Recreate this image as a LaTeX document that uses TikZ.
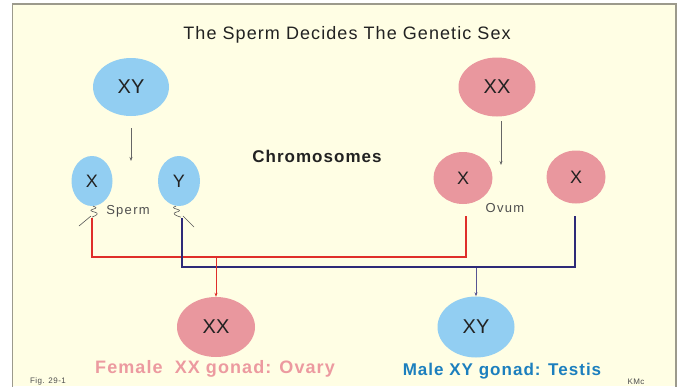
\documentclass[tikz,border=0pt]{standalone}
\usepackage{fontspec}
\setmainfont{Liberation Sans}
\newfontfamily\wide[LetterSpace=6]{Liberation Sans}
\newfontfamily\wider[LetterSpace=10]{Liberation Sans}
\usetikzlibrary{arrows.meta,shapes.geometric}
\definecolor{bg}{HTML}{FFFEE4}
\definecolor{frame}{HTML}{9C9A8C}
\definecolor{bluecell}{HTML}{92CEF2}
\definecolor{pinkcell}{HTML}{E9979E}
\definecolor{redline}{HTML}{DF2E2A}
\definecolor{navyline}{HTML}{2E2A78}
\definecolor{malelabel}{HTML}{1C7FBE}
\definecolor{femalelabel}{HTML}{EC9AA0}
\definecolor{txt}{HTML}{222222}
\tikzset{
  cell/.style={ellipse, inner sep=0pt, text=txt, font=\fontsize{20}{20}\selectfont},
  single/.style={font=\fontsize{18}{18}\selectfont},
  bluec/.style={cell, fill=bluecell},
  pinkc/.style={cell, fill=pinkcell},
  greyarrow/.style={-{Stealth[length=4pt,width=3pt]}, draw=gray!80!black, line width=0.6pt},
  redpath/.style={draw=redline, line width=2pt},
  navypath/.style={draw=navyline, line width=2pt},
  tail/.style={draw=gray!70!black, line width=0.6pt},
  small/.style={font=\wider\fontsize{13}{13}\selectfont, text=txt!80},
}
\begin{document}
\begin{tikzpicture}[x=1pt,y=-1pt]
\useasboundingbox (0,0) rectangle (678,386);
\fill[white] (0,0) rectangle (678,386);
\fill[bg] (12.5,4) rectangle (676,386);
\draw[frame, line width=1.5pt] (12.5,387) -- (12.5,4) -- (676,4) -- (676,387);

\node[font=\wide\fontsize{18}{18}\selectfont, text=txt] (title) at (347,35) {The Sperm Decides The Genetic Sex};

\node[bluec, minimum width=76pt, minimum height=58pt] (pxy) at (131,87) {XY};
\node[pinkc, minimum width=77pt, minimum height=59pt] (pxx) at (497,87) {XX};

\node[font=\wide\bfseries\fontsize{17}{17}\selectfont, text=txt] (chrom) at (317,156) {Chromosomes};

\node[bluec, single, minimum width=41pt, minimum height=50pt] (sx) at (92,181) {X};
\node[bluec, single, minimum width=42pt, minimum height=50pt] (sy) at (179,181) {Y};
\node[pinkc, single, minimum width=59pt, minimum height=52pt] (ox1) at (463,178) {X};
\node[pinkc, single, minimum width=59pt, minimum height=53pt] (ox2) at (576,177) {X};

\coordinate (a1s) at (131,128);
\coordinate (a1e) at (131,161);
\coordinate (a2s) at (501,121);
\coordinate (a2e) at (501,165);
\draw[greyarrow] (a1s) -- (a1e);
\draw[greyarrow] (a2s) -- (a2e);

\node[small] (sperm) at (128,211) {Sperm};
\node[small] (ovum) at (505,208) {Ovum};

% sperm tails
\draw[tail] (sx.south) ++(1,0) .. controls +(4,1) and +(4,-1) .. ++(0,3) .. controls +(-4,1) and +(-4,-1) .. ++(2,3) .. controls +(4,1) and +(3,-1) .. ++(-1,4) -- ++(-2,1);
\draw[tail] (91,216) -- (79,226);
\draw[tail] (sy.south) ++(-3,0) .. controls +(-4,1) and +(-4,-1) .. ++(1,3) .. controls +(4,1) and +(4,-1) .. ++(-1,3) .. controls +(-4,1) and +(-3,-1) .. ++(2,4) -- ++(3,1);
\draw[tail] (183,216) -- (194,227);

% crossing lines
\coordinate (r1) at (92,218);
\coordinate (r2) at (92,257);
\coordinate (r3) at (466,257);
\coordinate (r4) at (466,216);
\coordinate (n1) at (182,218);
\coordinate (n2) at (182,267);
\coordinate (n3) at (575,267);
\coordinate (n4) at (575,216);
\draw[redpath] (r1) -- (r2) -- (r3) -- (r4);
\draw[navypath] (n1) -- (n2) -- (n3) -- (n4);

\node[pinkc, minimum width=78pt, minimum height=60pt] (gxx) at (216,327) {XX};
\node[bluec, minimum width=77pt, minimum height=61pt] (gxy) at (476,327) {XY};

\coordinate (rd) at (216,258);
\coordinate (nd) at (476,268);
\draw[-{Stealth[length=4pt,width=3pt]}, draw=redline, line width=0.6pt] (rd) -- (gxx.north);
\draw[-{Stealth[length=4pt,width=3pt]}, draw=navyline!80, line width=0.6pt] (nd) -- (gxy.north);

\node[font=\wide\bfseries\fontsize{18}{18}\selectfont, text=femalelabel] (flab) at (215,369) {Female\ \ XX gonad: Ovary};
\node[font=\wide\bfseries\fontsize{17}{17}\selectfont, text=malelabel] (mlab) at (502,371) {Male XY gonad: Testis};

\node[font=\wide\fontsize{8}{8}\selectfont, text=txt!80] (fig) at (48,381) {Fig. 29-1};
\node[font=\wide\fontsize{8}{8}\selectfont, text=txt!80] (kmc) at (636,382) {KMc};
\end{tikzpicture}
\end{document}
